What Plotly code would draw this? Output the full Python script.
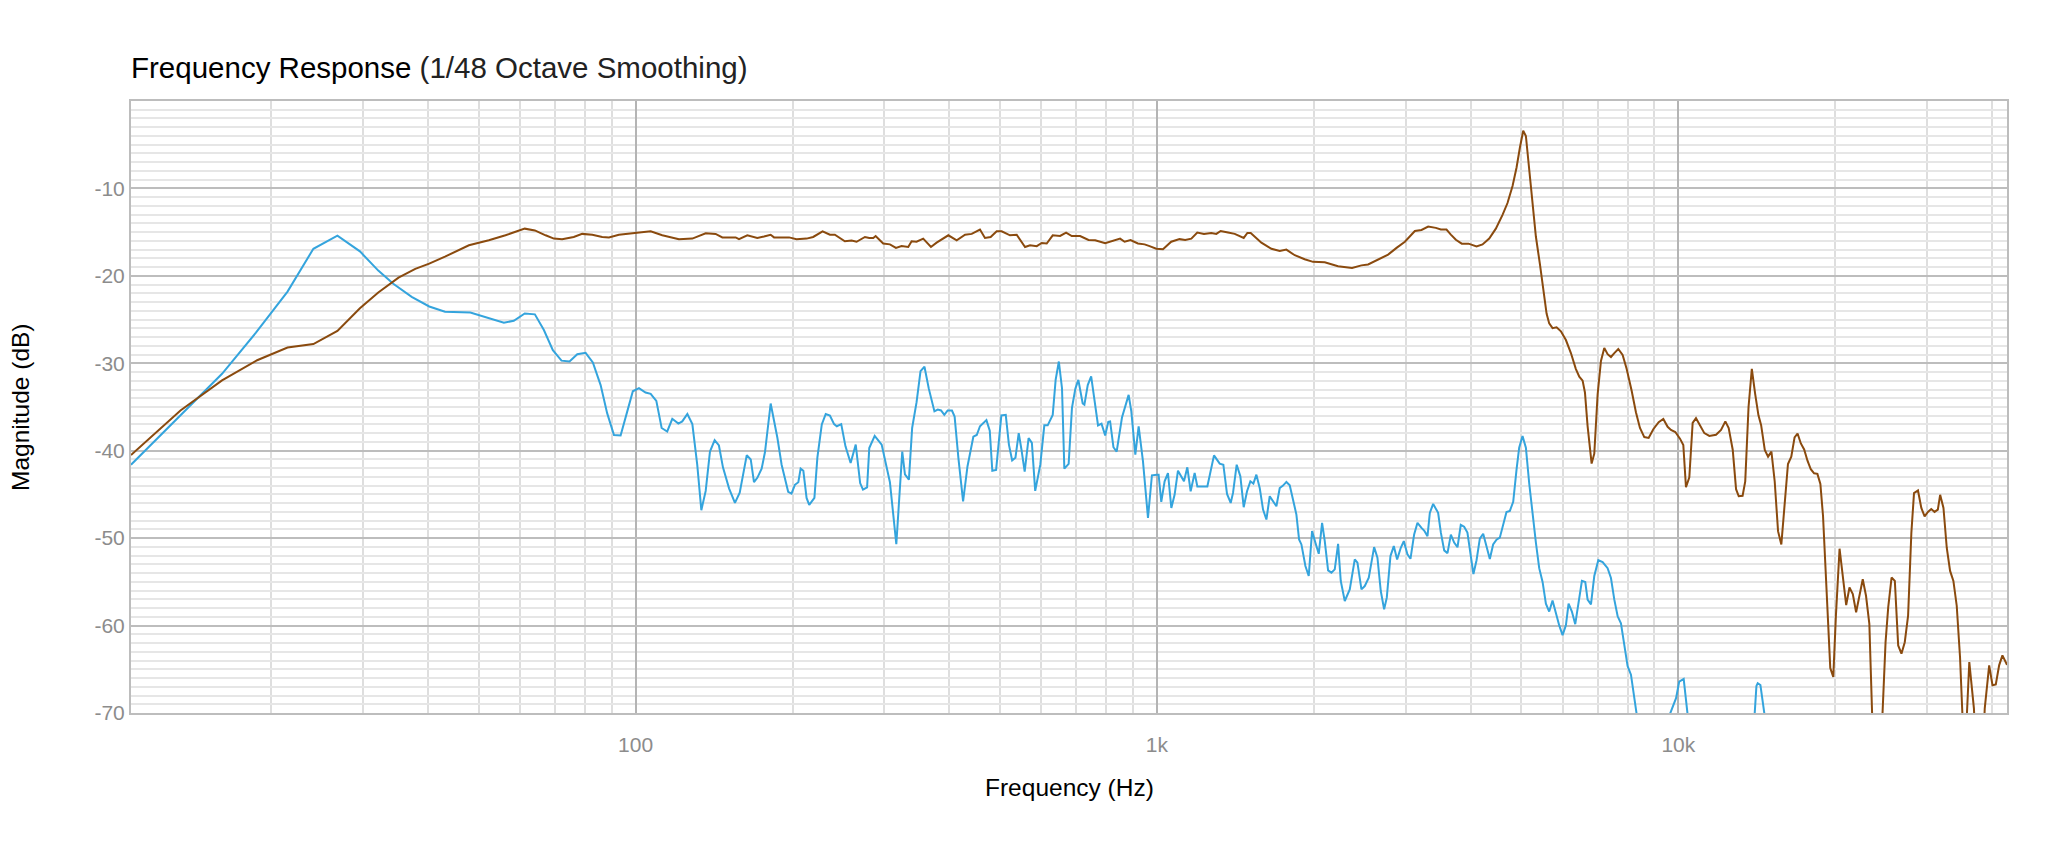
import math
import plotly.graph_objects as go

# ---------------- data ----------------
# Series A (blue)
freq_a = [10.77, 16.1, 18.7, 21.5, 24.1, 26.8, 29.6, 32.1, 34.3, 37.2, 40.2, 43.1,
          48.2, 53.1, 55.9, 58.4, 61.3, 64.1, 66.7, 69.4, 72.1, 74.7, 77.3, 80.2, 82.8, 85.7,
          88.2, 90.9, 93.6, 96.4, 98.8, 101.5, 104.5, 106.9, 109.6, 112.2, 115.0, 117.6, 120.8,
          122.9, 125.7, 128.5, 131.3, 133.7, 136.3, 138.9, 141.8, 144.5, 147.1, 151.1, 155.1,
          158.4, 163.4, 166.3, 168.7, 171.2, 174.5, 177.1, 181.6, 187.1, 190.6,
          196.2, 199.1, 202.1, 205.2, 207.3, 209.8, 212.8, 215.3, 220.3, 223.2, 227.6, 231.6,
          235.9, 240.3, 243.2, 248.0, 252.7, 258.5, 264.4, 269.6, 273.0, 278.0, 280.7, 287.5,
          296.5, 303.0, 307.5, 316.3, 321.4, 324.7, 328.6, 334.4, 339.2, 345.9, 352.0, 358.2,
          365.1, 374.3, 379.8, 385.4, 391.0, 396.8, 404.4, 409.2, 416.2, 424.8, 433.1, 439.4,
          444.5, 451.2, 457.7, 470.9, 477.9, 483.3, 491.5, 503.0, 512.9, 520.1, 527.6, 535.3,
          543.1, 549.5, 557.6, 567.3, 575.6, 584.1, 597.4, 608.1, 617.2, 631.1, 639.3, 648.4,
          657.5, 664.3, 677.1, 687.1, 697.4, 706.7, 720.4, 725.8, 736.7, 747.9, 770.9, 782.8,
          795.6, 806.7, 813.2, 825.2, 837.0,
          856.9, 869.6, 882.5, 893.0, 908.9, 922.4, 940.2, 961.2, 978.1, 1000, 1007.4, 1019.3,
          1034.5, 1049.8, 1065.6, 1081.3, 1097.3, 1126.8, 1143.6, 1160.5, 1181.2, 1195.3,
          1225.6, 1249.3, 1286.6, 1319.3, 1340.8, 1362.7, 1385.0, 1399.3, 1422.2, 1445.4,
          1466.9, 1488.7, 1510.8, 1531.0, 1551.4, 1574.4, 1597.8, 1621.5, 1645.6, 1694.8,
          1719.9, 1745.4, 1771.3, 1797.6, 1851.3, 1873.3, 1892.7, 1926.4, 1955.0, 1984.0,
          2013.5, 2043.4, 2073.7, 2098.3, 2129.4, 2161.0, 2193.1, 2225.7, 2252.0, 2292.2,
          2343.4, 2395.7, 2424.1, 2467.3, 2503.9, 2548.5, 2609.3, 2648.0, 2687.4, 2727.3,
          2759.6, 2804.7, 2846.3, 2888.5, 2935.7, 2975.0, 3023.6, 3063.9, 3114.0, 3160.2,
          3216.6, 3254.7, 3303.0, 3337.2, 3386.8,
          3462, 3504, 3556, 3608, 3662, 3716, 3771, 3826, 3883, 3940, 3999, 4046, 4102, 4162,
          4224, 4286, 4350, 4414, 4480, 4546, 4614, 4682, 4752, 4823, 4895, 4952, 5026, 5101,
          5176, 5253, 5331, 5410, 5491, 5572, 5654, 5738, 5823, 5910, 5998, 6087, 6159, 6250,
          6343, 6437, 6533, 6630, 6699, 6799, 6900, 7023, 7159, 7318, 7427, 7538, 7650, 7762,
          7878, 7993, 8113, 8232, 8318, 8700, 9100, 9640, 9900, 10040, 10240, 10420, 10900,
          12000, 13200, 14000, 14120, 14200, 14370, 14650, 15200, 18000, 25000, 33000, 42700]
mag_a = [-41.6, -31.2, -26.5, -21.8, -16.9, -15.4, -17.2, -19.4, -20.9, -22.4, -23.5, -24.1,
         -24.2, -24.9, -25.36, -25.13, -24.3, -24.4, -26.2, -28.5, -29.7, -29.8, -28.97, -28.8,
         -29.9, -32.5, -35.7, -38.2, -38.25, -35.5, -33.2, -32.85, -33.35, -33.5, -34.3, -37.4,
         -37.8, -36.35, -36.9, -36.65, -35.8, -36.96, -41.6, -46.8, -44.6, -40.1, -38.8, -39.4,
         -41.9, -44.3, -45.97, -44.8, -40.5, -41.0, -43.6, -43.1, -42.05, -40.15, -34.6, -38.55,
         -41.6,
         -44.7, -44.9, -43.9, -43.6, -42.05, -42.3, -45.4, -46.2, -45.4, -40.8, -37.0, -35.8,
         -35.97, -36.96, -37.2, -36.96, -39.5, -41.4, -39.3, -43.7, -44.45, -44.2, -39.7, -38.3,
         -39.3, -42.0, -43.6, -50.7, -44.6, -40.1, -42.7, -43.3, -37.4, -34.45, -30.9, -30.4,
         -32.9, -35.5, -35.3, -35.4, -35.9, -35.4, -35.4, -36.1, -40.9, -45.8, -41.8, -40.1,
         -38.4, -38.2, -37.2, -36.5, -37.7, -42.3, -42.2, -35.97, -35.9, -39.3, -41.1, -40.8,
         -38.0, -39.8, -42.4, -38.55, -39.1, -44.6, -41.6, -37.1, -37.1, -35.9, -31.9, -29.8,
         -32.85, -42.05, -41.5, -35.1, -32.9, -31.9, -34.6, -34.75, -32.5, -31.5, -37.1, -36.9,
         -38.25, -36.7, -36.65, -39.6, -40.1,
         -36.2, -34.94, -33.61, -35.51, -40.46, -37.22, -41.22, -47.68, -42.81, -42.74, -42.74,
         -45.86, -43.5, -42.55, -46.54, -45.02, -42.28, -43.5, -41.9, -44.64, -42.55, -44.1,
         -44.07, -44.1, -40.53, -41.48, -41.6, -44.94, -45.97, -44.83, -41.6, -42.93, -46.46,
         -44.64, -43.5, -43.76, -42.74, -44.26, -46.73, -47.87, -45.21, -46.35, -44.26, -43.99,
         -43.57, -43.95, -47.3, -50.15, -50.72, -53.19, -54.33, -49.2, -50.53, -51.79, -48.25,
         -50.34, -53.69, -53.95, -53.57, -50.65, -54.9, -57.19, -55.86, -52.43, -52.81, -55.86,
         -55.48, -54.52, -51.03, -52.24, -56.05, -58.14, -56.81, -52.05, -50.91, -52.43, -51.1,
         -50.34, -51.86, -52.36, -49.58, -48.25, -48.82, -49.13, -49.77, -47.11, -46.08,
         -47.11, -49.37, -51.4, -51.72, -49.59, -50.5, -51.04, -48.47, -48.69, -49.37, -52.3,
         -54.11, -52.53, -50.05, -49.5, -50.95, -52.39, -50.72, -50.18, -49.95, -48.47, -47.02,
         -46.88, -45.85, -42.14, -39.66, -38.31, -39.66, -43.72, -47.34, -50.5, -53.43, -55.01,
         -57.49, -58.4, -57.13, -58.62, -59.98, -61.1, -59.98, -57.49, -58.4, -59.84, -57.13,
         -54.88, -55.01, -57.04, -57.58, -54.33, -52.53, -52.75, -53.43, -54.56, -57.04, -58.94,
         -59.75, -62.46, -64.63, -65.62, -68.33, -70.1, -76.0, -79.0, -70.1, -68.3, -66.4,
         -66.1, -70.2, -77.0, -81.0, -77.0, -70.4, -66.9, -66.6, -66.8, -70.4, -77.0, -84.0,
         -88.0, -90.0, -92.0]

# Series B (brown)
freq_b = [10.77, 13.4, 16.1, 18.8, 21.5, 24.1, 26.8, 29.6, 32.1, 35.1, 37.8, 40.2, 43.1,
          47.9, 52.3, 56.3, 61.3, 64.1, 67.2, 69.7, 72.3, 76.1, 79.0, 82.6, 86.3, 88.9, 92.9,
          100, 106.9, 112.5, 121.1, 128.5, 136.3, 142.4, 146.7, 155.6, 157.9, 163.8, 171.2,
          176.3, 181.6, 184.3, 197,
          203.6, 212.8, 219.1, 228.4, 235.9, 241.1, 252.0, 259.6, 265.4, 275.4, 280.7, 285.7,
          288.7, 298.5, 307.5, 315.8, 323.7, 333.4, 338.4, 345.9, 356.2, 368.6, 377.9, 386.4,
          398.0, 413.0, 428.5, 441.3, 447.7, 457.7, 467.9, 479.8, 492.7, 503.7, 522.6, 538.3,
          558.5, 571.0, 588.1, 601.2, 614.6, 631.1, 652.0, 669.5, 686.5, 712.3, 739.1, 761.2,
          795.6, 825.2, 849.9,
          866.8, 890.1, 919.3, 947.0, 968.0, 997, 1027, 1065, 1105, 1133, 1164, 1195, 1231,
          1271, 1300, 1325, 1369, 1410, 1467, 1491, 1513, 1586, 1658, 1720, 1771, 1838, 1920,
          1992, 2098, 2225, 2367, 2467, 2541, 2656, 2776, 2881, 2989, 3124, 3217, 3313,
          3427, 3504, 3592, 3662, 3744, 3843, 3959, 4102, 4212, 4338, 4467, 4601, 4703, 4809,
          4895, 4967, 5041, 5101, 5176, 5253, 5331, 5427, 5507, 5589, 5654, 5738, 5841, 5954,
          6087, 6223, 6359, 6457, 6553, 6621, 6699, 6819, 6900, 7002, 7106, 7211, 7318, 7427,
          7538, 7671, 7820, 7959, 8136, 8293, 8442, 8605, 8772, 8954, 9169, 9359, 9539, 9681,
          9868, 10074, 10223, 10344, 10498, 10654, 10812, 11005, 11218, 11469, 11812, 12076,
          12309, 12492, 12716, 12905, 13058,
          13283, 13439, 13636, 13836, 14040, 14247, 14416, 14650, 14865, 15086, 15307, 15534,
          15761, 15995, 16230, 16470, 16711, 16932, 17180, 17433, 17691, 17951, 18216, 18484,
          18728, 18949, 19143, 19365, 19565, 19825, 20057, 20383, 20681, 20989, 21296, 21612,
          21929, 22250, 22582, 22909, 23249, 23700, 24400, 24975, 25269, 25645, 26020, 26406,
          26792, 27185, 27589, 27989, 28319, 28820, 29248, 29676, 30116, 30557, 31007, 31461,
          31782, 32253, 32724, 33210, 33698, 34198, 34699, 35400, 36151, 36900, 37300, 38300,
          38700, 39466, 40052, 40640, 41243, 41847, 42700]
mag_b = [-40.5, -35.4, -31.95, -29.65, -28.2, -27.8, -26.3, -23.7, -21.9, -20.2, -19.2, -18.6,
         -17.8,
         -16.5, -15.93, -15.36, -14.6, -14.8, -15.36, -15.74, -15.8, -15.55, -15.2, -15.3,
         -15.55, -15.6, -15.3, -15.13, -14.9, -15.36, -15.8, -15.74, -15.13, -15.2, -15.6, -15.6,
         -15.8, -15.36, -15.66, -15.5, -15.3, -15.6, -15.6,
         -15.8, -15.74, -15.55, -14.9, -15.3, -15.3, -16.05, -15.97, -16.1, -15.55, -15.66,
         -15.66, -15.44, -16.3, -16.4, -16.8, -16.6, -16.7, -16.05, -16.1, -15.74, -16.7, -16.2,
         -15.8, -15.36, -15.93, -15.3, -15.2, -15.0, -14.7, -15.66, -15.55, -14.9, -14.9,
         -15.36, -15.3, -16.7, -16.5, -16.6, -16.24, -16.3, -15.36, -15.44, -15.05, -15.44,
         -15.44, -15.9, -15.93, -16.27, -15.97, -15.74,
         -16.1, -15.9, -16.3, -16.4, -16.6, -16.9, -16.96, -16.1, -15.8, -15.9, -15.74, -15.05,
         -15.2, -15.1, -15.2, -14.87, -15.05, -15.2, -15.66, -15.1, -15.1, -16.2, -16.9, -17.15,
         -17.0, -17.64, -18.1, -18.4, -18.44, -18.9, -19.1, -18.8, -18.7, -18.1, -17.57, -16.8,
         -16.1, -14.87, -14.75, -14.37,
         -14.51, -14.7, -14.7, -15.28, -15.87, -16.32, -16.32, -16.64, -16.41, -15.73, -14.6,
         -13.02, -11.67, -9.73, -7.61, -5.35, -3.41, -4.0, -7.83, -12.12, -15.5, -18.67, -21.38,
         -24.31, -25.44, -25.98, -25.89, -26.34, -27.34, -28.83, -30.63, -31.54, -31.99, -33.34,
         -37.18, -41.47, -40.34, -33.57, -29.73, -28.24, -28.96, -29.28, -28.83, -28.37, -29.05,
         -30.63, -33.12, -35.6, -37.4, -38.44, -38.53, -37.54, -36.73, -36.37, -37.27, -37.63,
         -37.86, -38.62, -39.35, -44.18, -43.05, -36.82, -36.28, -37.18, -37.99, -38.31, -38.17,
         -37.63, -36.64, -37.4, -39.89, -44.4, -45.21,
         -45.15, -43.5, -35.0, -30.64, -33.5, -35.95, -37.08, -39.92, -40.68, -40.11, -43.52,
         -49.2, -50.72, -45.98, -41.52, -40.68, -38.48, -38.03, -39.17, -39.85, -41.14, -42.12,
         -42.58, -42.65, -43.79, -47.5, -53.18, -58.86, -64.85, -65.87, -58.86, -51.21, -54.32,
         -57.65, -55.64, -56.4, -58.48, -56.4, -54.7, -56.59, -59.81, -76.0, -76.0, -61.9,
         -57.92, -54.51, -54.89, -62.27, -63.22, -61.9, -58.86, -49.39, -44.85, -44.55, -46.55,
         -47.5, -47.0, -46.67, -47.0, -46.74, -45.04, -46.55, -51.1, -53.75, -54.89, -57.73,
         -63.6, -76.0, -64.17, -69.5, -76.0, -76.0, -69.5, -64.55, -66.82, -66.74, -64.55,
         -63.41, -64.5]

x_tick_vals = [100, 1000, 10000]
x_tick_text = ["100", "1k", "10k"]
y_tick_vals = [-10, -20, -30, -40, -50, -60, -70]
y_tick_text = ["-10", "-20", "-30", "-40", "-50", "-60", "-70"]
x_min_hz, x_max_hz = 10.77, 42700
y_min_db, y_max_db = -70, 0

minor_x = [m * 10 ** d for d in range(1, 5) for m in range(2, 10)]
minor_x = [v for v in minor_x if x_min_hz < v < x_max_hz]

FONT = "Helvetica Neue, Helvetica, Arial, Liberation Sans, sans-serif"
BLUE = "#34a4dd"
BROWN = "#8a4a0e"

fig = go.Figure()
fig.add_trace(go.Scatter(x=freq_a, y=mag_a, mode="lines",
                         line=dict(color=BLUE, width=2), showlegend=False))
fig.add_trace(go.Scatter(x=freq_b, y=mag_b, mode="lines",
                         line=dict(color=BROWN, width=2), showlegend=False))

W, H = 2048, 853
ML, MR, MT, MB = 131, 41, 101, 140

fig.update_layout(
    width=W, height=H, autosize=False,
    margin=dict(l=ML, r=MR, t=MT, b=MB, pad=0),
    paper_bgcolor="white", plot_bgcolor="white",
    font=dict(family=FONT, color="#111111"),
    title=dict(
        text="Frequency Response <span style='color:#222222'>(1/48 Octave Smoothing)</span>",
        x=ML / W, xanchor="left", xref="container",
        y=1 - 68 / H, yanchor="middle", yref="container",
        font=dict(family=FONT, size=29.5, color="#000000"),
    ),
    xaxis=dict(
        type="log",
        range=[math.log10(x_min_hz), math.log10(x_max_hz)],
        tickmode="array", tickvals=x_tick_vals, ticktext=x_tick_text,
        showgrid=True, gridcolor="#b4b4b4", gridwidth=1.5,
        showline=True, linecolor="#bdbdbd", linewidth=2, mirror=True,
        ticks="", zeroline=False,
        tickfont=dict(family=FONT, size=21, color="#8c8c8c"),
        ticklabelstandoff=12,
        minor=dict(tickmode="array", tickvals=minor_x, showgrid=True,
                   gridcolor="#dedede", gridwidth=1.5, ticks=""),
    ),
    yaxis=dict(
        range=[y_min_db, y_max_db],
        tickmode="array", tickvals=y_tick_vals, ticktext=y_tick_text,
        showgrid=True, gridcolor="#bdbdbd", gridwidth=2,
        showline=True, linecolor="#bdbdbd", linewidth=2, mirror=True,
        ticks="", zeroline=False,
        tickfont=dict(family=FONT, size=21, color="#8c8c8c"),
        minor=dict(dtick=1, showgrid=True, gridcolor="#e6e6e6", gridwidth=1.5, ticks=""),
    ),
    annotations=[
        dict(text="Frequency (Hz)", xref="paper", yref="paper",
             x=0.5, y=(713 - 787.5) / (H - MT - MB), xanchor="center", yanchor="middle",
             showarrow=False, font=dict(family=FONT, size=24.5, color="#000000")),
        dict(text="Magnitude (dB)", xref="paper", yref="paper",
             x=(20 - ML) / (W - ML - MR), y=0.5, xanchor="center", yanchor="middle",
             textangle=-90, showarrow=False,
             font=dict(family=FONT, size=24.5, color="#000000")),
    ],
)

fig.write_html("out.html")
